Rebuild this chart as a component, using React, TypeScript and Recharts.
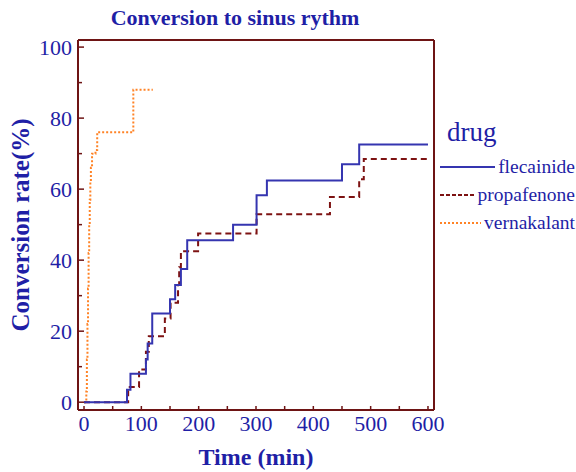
import { LineChart, Line, XAxis, YAxis, ReferenceLine } from 'recharts'

// Kaplan-Meier style step curves
const flecTime = [0, 75, 81, 108, 111, 119, 150, 159, 169, 180, 260, 301, 319, 450, 480, 600]
const flecRate = [0, 3.5, 8, 12, 16.5, 25, 29, 33, 37.5, 45.6, 50, 58.3, 62.4, 67, 72.6, 72.6]

const propTime = [0, 77, 96, 108, 113, 141, 151, 164, 166, 169, 199, 301, 429, 480, 488, 600]
const propRate = [0, 4.3, 9.2, 14.2, 18.6, 23.6, 28, 33, 38, 42.5, 47.5, 52.9, 57.8, 62.8, 68.5, 68.5]

const vernTime = [0, 4, 5, 6, 7, 8, 9, 10, 11, 12, 14, 20, 23, 86, 120]
const vernRate = [0, 3, 12, 22, 32, 42, 50, 57, 62, 66, 70, 71, 76, 88, 88]

const xTicks = [0, 50, 100, 150, 200, 250, 300, 350, 400, 450, 500, 550, 600]
const yTicks = [0, 10, 20, 30, 40, 50, 60, 70, 80, 90, 100]

const xDomain = [-10.5, 610.5]
const yDomain = [-2.2, 102]

const TEXT = '#1f1fa6'
const FRAME = '#6e1414'
const BLUE = '#3535b0'
const RED = '#7d1212'
const ORANGE = '#ff8326'
const FONT = '"Liberation Serif", serif'

const toRows = (t: number[], r: number[]) => t.map((time, i) => ({ time, rate: r[i] }))

const flecData = toRows(flecTime, flecRate)
const propData = toRows(propTime, propRate)
const vernData = toRows(vernTime, vernRate)

const legendItems = [
  { name: 'flecainide', color: BLUE, dash: undefined },
  { name: 'propafenone', color: RED, dash: '4 2' },
  { name: 'vernakalant', color: ORANGE, dash: '2 2' },
]

function YTick(props: any) {
  const { x, y, payload } = props
  const v = payload.value
  const major = v % 20 === 0
  const ax = x + 6
  return (
    <g>
      <line x1={ax} x2={ax + (major ? 6 : 4)} y1={y} y2={y} stroke={FRAME} strokeWidth={1.5} />
      {major && (
        <text x={x} y={y} dy="0.35em" textAnchor="end" fill={TEXT} fontSize={22} fontFamily={FONT}>
          {v}
        </text>
      )}
    </g>
  )
}

function XTick(props: any) {
  const { x, y, payload } = props
  const v = payload.value
  const major = v % 100 === 0
  const ay = y - 4
  return (
    <g>
      <line x1={x} x2={x} y1={ay} y2={ay - 4} stroke={FRAME} strokeWidth={1.5} />
      {major && (
        <text x={x} y={y} dy="0.75em" textAnchor="middle" fill={TEXT} fontSize={22} fontFamily={FONT}>
          {v}
        </text>
      )}
    </g>
  )
}

export default function App() {
  return (
    <div style={{ position: 'absolute', left: 0, top: 0, width: 576, height: 472, background: '#fff', fontFamily: FONT }}>
      {/* Title */}
      <div style={{ position: 'absolute', left: 0, top: 5, width: 470, textAlign: 'center', color: TEXT, fontSize: 22, fontWeight: 'bold' }}>
        Conversion to sinus rythm
      </div>

      <LineChart width={576} height={472} margin={{ top: 40, right: 142, bottom: 0, left: 0 }}>
        <XAxis
          dataKey="time"
          type="number"
          domain={xDomain}
          allowDataOverflow
          ticks={xTicks}
          interval={0}
          height={62}
          tickSize={0}
          tickMargin={4}
          tickLine={false}
          tick={<XTick />}
          axisLine={{ stroke: FRAME, strokeWidth: 2 }}
          label={{ value: 'Time (min)', position: 'insideBottom', offset: 7, fill: TEXT, fontSize: 24, fontWeight: 'bold', fontFamily: FONT }}
        />
        <YAxis
          type="number"
          domain={yDomain}
          allowDataOverflow
          ticks={yTicks}
          interval={0}
          width={78}
          tickSize={0}
          tickMargin={6}
          tickLine={false}
          tick={<YTick />}
          axisLine={{ stroke: FRAME, strokeWidth: 2 }}
          label={{ value: 'Conversion rate(%)', angle: -90, position: 'insideLeft', offset: 20, fill: TEXT, fontSize: 25, fontWeight: 'bold', fontFamily: FONT, style: { textAnchor: 'middle' } }}
        />
        {/* top and right edges of the frame */}
        <ReferenceLine y={yDomain[1]} stroke={FRAME} strokeWidth={2} />
        <ReferenceLine x={xDomain[1]} stroke={FRAME} strokeWidth={2} />

        <Line data={vernData} dataKey="rate" type="stepAfter" stroke={ORANGE} strokeWidth={2} strokeDasharray="2 2" dot={false} isAnimationActive={false} />
        <Line data={propData} dataKey="rate" type="stepAfter" stroke={RED} strokeWidth={2} strokeDasharray="6 4" dot={false} isAnimationActive={false} />
        <Line data={flecData} dataKey="rate" type="stepAfter" stroke={BLUE} strokeWidth={2} dot={false} isAnimationActive={false} />
      </LineChart>

      {/* Legend */}
      <div style={{ position: 'absolute', left: 440, top: 111, width: 135 }}>
        <div style={{ color: TEXT, fontSize: 27, lineHeight: '42px', paddingLeft: 7 }}>drug</div>
        {legendItems.map(item => (
          <div key={item.name} style={{ display: 'flex', alignItems: 'center', height: 28 }}>
            <svg style={{ flex: 1, height: 6 }}>
              <line x1={0} x2="100%" y1={3} y2={3} stroke={item.color} strokeWidth={2} strokeDasharray={item.dash} />
            </svg>
            <span style={{ color: TEXT, fontSize: 19.5, marginLeft: 3, whiteSpace: 'nowrap' }}>{item.name}</span>
          </div>
        ))}
      </div>
    </div>
  )
}
